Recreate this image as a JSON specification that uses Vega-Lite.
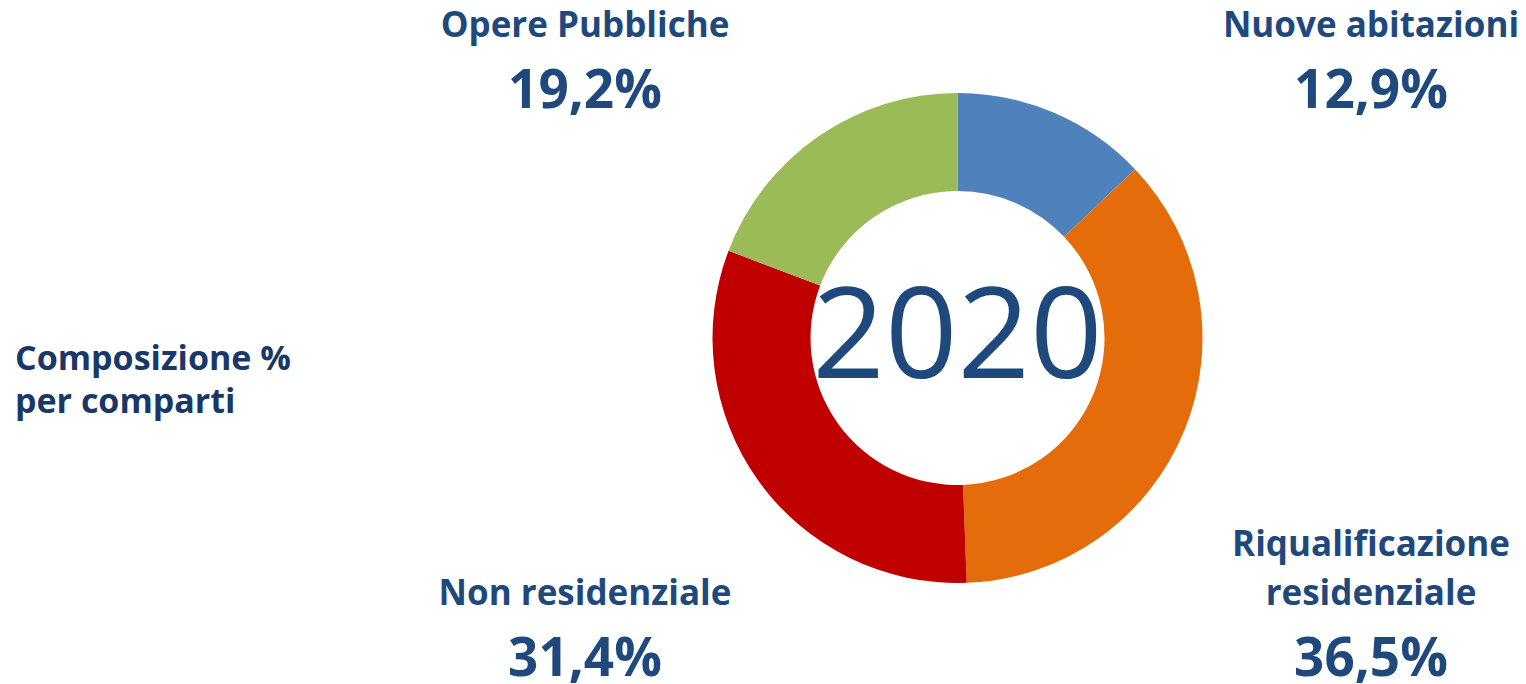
{
  "$schema": "https://vega.github.io/schema/vega-lite/v6.json",
  "width": 1526,
  "height": 684,
  "autosize": "none",
  "padding": 0,
  "background": "white",
  "config": {"view": {"stroke": null}, "font": "Open Sans"},
  "datasets": {
    "slices": [
      {"comparto": "Nuove abitazioni", "quota": 12.9, "ordine": 1, "sopra": "", "etichetta": "Nuove abitazioni", "valore": "12,9%", "lato": "right", "riga": "top"},
      {"comparto": "Riqualificazione residenziale", "quota": 36.5, "ordine": 2, "sopra": "Riqualificazione", "etichetta": "residenziale", "valore": "36,5%", "lato": "right", "riga": "bottom"},
      {"comparto": "Non residenziale", "quota": 31.4, "ordine": 3, "sopra": "", "etichetta": "Non residenziale", "valore": "31,4%", "lato": "left", "riga": "bottom"},
      {"comparto": "Opere Pubbliche", "quota": 19.2, "ordine": 4, "sopra": "", "etichetta": "Opere Pubbliche", "valore": "19,2%", "lato": "left", "riga": "top"}
    ],
    "centro": [{"anno": "2020", "lato": "center", "riga": "center"}],
    "nota": [{"testo": "Composizione %\nper comparti", "lato": "note", "riga": "center"}]
  },
  "layer": [
    {
      "layer": [
        {
          "data": {"name": "slices"},
          "mark": {"type": "arc", "innerRadius": 147, "outerRadius": 245},
          "encoding": {
            "theta": {"field": "quota", "type": "quantitative", "stack": true},
            "order": {"field": "ordine", "type": "quantitative"},
            "color": {
              "field": "comparto",
              "type": "nominal",
              "scale": {
                "domain": ["Nuove abitazioni", "Riqualificazione residenziale", "Non residenziale", "Opere Pubbliche"],
                "range": ["#4F81BD", "#E46C0A", "#C00000", "#9BBB59"]
              },
              "legend": null
            },
            "x": {"datum": "center", "type": "nominal", "scale": {"type": "point", "domain": ["center"], "range": [947.5, 967.5], "padding": 0.5}, "axis": null},
            "y": {"datum": "center", "type": "nominal", "scale": {"type": "point", "domain": ["top", "center", "bottom"], "range": [54, 622], "padding": 0}, "axis": null}
          }
        },
        {
          "data": {"name": "centro"},
          "mark": {"type": "text", "font": "Open Sans", "fontSize": 127, "fontWeight": "normal", "baseline": "middle", "align": "center", "color": "#1F497D", "dy": 2},
          "encoding": {
            "text": {"field": "anno", "type": "nominal"},
            "x": {"field": "lato", "type": "nominal", "axis": null},
            "y": {"field": "riga", "type": "nominal", "axis": null}
          }
        }
      ]
    },
    {
      "data": {"name": "slices"},
      "encoding": {
        "x": {"field": "lato", "type": "nominal", "scale": {"type": "point", "domain": ["left", "right"], "range": [585, 1371], "padding": 0}, "axis": null},
        "y": {"field": "riga", "type": "nominal", "scale": {"type": "point", "domain": ["top", "center", "bottom"], "range": [54, 622], "padding": 0}, "axis": null}
      },
      "layer": [
        {
          "mark": {"type": "text", "font": "Open Sans", "fontWeight": "bold", "fontSize": 35, "color": "#1F497D", "align": "center", "baseline": "alphabetic", "dy": -66},
          "encoding": {"text": {"field": "sopra", "type": "nominal"}}
        },
        {
          "mark": {"type": "text", "font": "Open Sans", "fontWeight": "bold", "fontSize": 35, "color": "#1F497D", "align": "center", "baseline": "alphabetic", "dy": -17},
          "encoding": {"text": {"field": "etichetta", "type": "nominal"}}
        },
        {
          "mark": {"type": "text", "font": "Open Sans", "fontWeight": "bold", "fontSize": 53, "color": "#1F497D", "align": "center", "baseline": "alphabetic", "dy": 54},
          "encoding": {"text": {"field": "valore", "type": "nominal"}}
        }
      ]
    },
    {
      "data": {"name": "nota"},
      "mark": {"type": "text", "font": "Open Sans", "fontWeight": "bold", "fontSize": 34, "color": "#1A3867", "align": "left", "baseline": "alphabetic", "lineBreak": "\n", "lineHeight": 43, "dy": 32},
      "encoding": {
        "text": {"field": "testo", "type": "nominal"},
        "x": {"field": "lato", "type": "nominal", "scale": {"type": "point", "domain": ["note"], "range": [0, 30], "padding": 0.5}, "axis": null},
        "y": {"field": "riga", "type": "nominal", "scale": {"type": "point", "domain": ["top", "center", "bottom"], "range": [54, 622], "padding": 0}, "axis": null}
      }
    }
  ],
  "resolve": {"scale": {"x": "independent"}}
}
